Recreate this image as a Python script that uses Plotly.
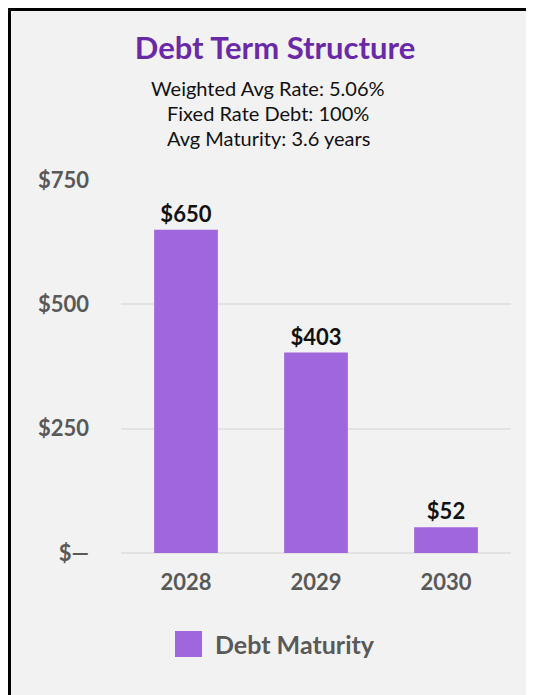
import plotly.graph_objects as go

years = ["2028", "2029", "2030"]
maturity = [650, 403, 52]
labels = ["$650", "$403", "$52"]
tick_vals = [0, 250, 500, 750]
tick_text = ["$\u2014", "$250", "$500", "$750"]
title_text = "Debt Term Structure"
subtitle_lines = ["Weighted Avg Rate: 5.06%", "Fixed Rate Debt: 100%", "Avg Maturity: 3.6 years"]
series_name = "Debt Maturity"

FONT = "Lato"
BAR = "#a066dc"
W, H = 534, 695
ml, mr, mt, mb = 113, 31, 172, 150
pw = W - ml - mr
ph = H - mt - mb

def px_x(x):
    return (x - ml) / pw

def px_y(y):
    return (H - mb - y) / ph

fig = go.Figure()
fig.add_trace(go.Bar(
    x=years, y=maturity, name=series_name,
    marker=dict(color=BAR, line=dict(width=0)),
    text=labels, textposition="outside", cliponaxis=False,
    textfont=dict(family=FONT, size=22, color="#111111", weight="bold"),
    showlegend=False, hoverinfo="skip",
))

fig.update_layout(
    width=W, height=H,
    margin=dict(l=ml, r=mr, t=mt, b=mb),
    paper_bgcolor="#f2f2f2", plot_bgcolor="rgba(0,0,0,0)",
    bargap=0.51,
    title=dict(text="<b>" + title_text + "</b>", x=0.5, xanchor="center", xref="container",
               y=1 - 40 / H, yanchor="middle", yref="container",
               font=dict(family=FONT, size=31, color="#6a2aa8")),
    xaxis=dict(showgrid=False, zeroline=False, showline=False, ticks="",
               tickfont=dict(family=FONT, size=22, color="#595959", weight="bold"),
               ticklabelstandoff=14),
    yaxis=dict(range=[0, 750], tickvals=tick_vals, ticktext=tick_text,
               showgrid=True, gridcolor="#e2e2e2", gridwidth=1.5,
               zeroline=True, zerolinecolor="#e2e2e2", zerolinewidth=1.5,
               showline=False, ticks="",
               tickfont=dict(family=FONT, size=22, color="#595959", weight="bold"),
               ticklabelstandoff=31),
    showlegend=False,
)

# card border: left and top edges
fig.add_shape(type="line", xref="paper", yref="paper",
              x0=px_x(1.5), x1=px_x(1.5), y0=px_y(H), y1=px_y(0),
              line=dict(color="black", width=3), layer="below")
fig.add_shape(type="line", xref="paper", yref="paper",
              x0=px_x(0), x1=px_x(W), y0=px_y(1.5), y1=px_y(1.5),
              line=dict(color="black", width=3), layer="below")

# subtitle lines
for i, line in enumerate(subtitle_lines):
    fig.add_annotation(text=line, xref="paper", yref="paper",
                       x=px_x(260), y=px_y(80 + 25 * i), showarrow=False,
                       xanchor="center", yanchor="middle",
                       font=dict(family=FONT, size=20, color="#111111"))

# legend
fig.add_shape(type="rect", xref="paper", yref="paper",
              x0=px_x(167), x1=px_x(194), y0=px_y(649), y1=px_y(623),
              fillcolor=BAR, line=dict(width=0))
fig.add_annotation(text=series_name, xref="paper", yref="paper",
                   x=px_x(205), y=px_y(636), showarrow=False,
                   xanchor="left", yanchor="middle",
                   font=dict(family=FONT, size=25, color="#595959", weight="bold"))

fig.write_html("out.html")
